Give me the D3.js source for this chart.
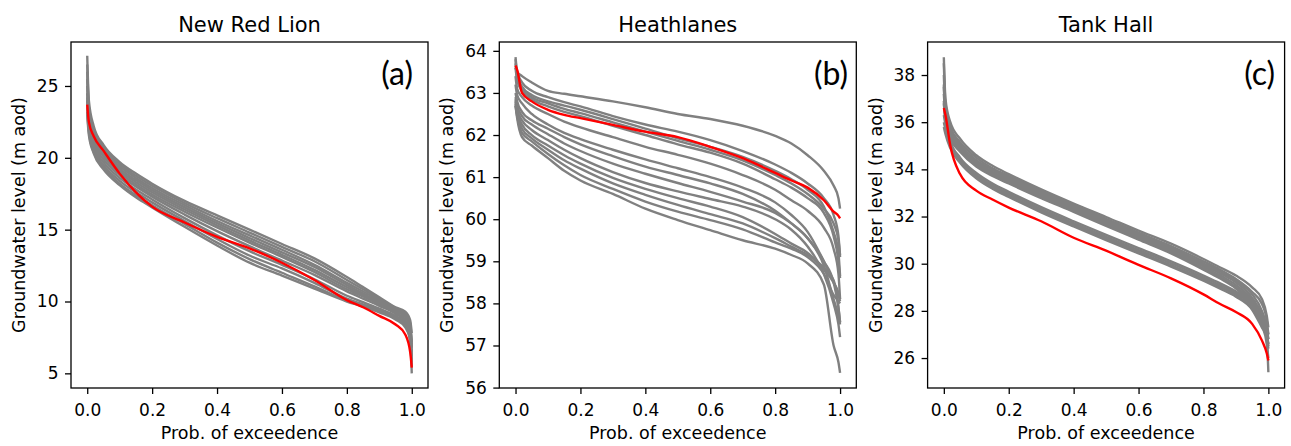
<html lang="en">
<head>
    <meta charset="utf-8">
    <style type="text/css">
        body { margin: 0; background: #fff; }
        text { font-family: "DejaVu Sans", sans-serif; fill: #000; }
        .grey { fill: none; stroke: #808080; stroke-width: 2.4px; stroke-linejoin: round; }
        .red { fill: none; stroke: #ff0000; stroke-width: 2.4px; stroke-linejoin: round; }
        .frame { fill: none; stroke: #000; stroke-width: 1.3px; }
        .tick line { stroke: #000; stroke-width: 1.3px; }
        .tick text { font-size: 17px; }
        .panelLetter { font-family: Lato, "Open Sans", sans-serif; font-size: 32px; }
    </style>
</head>

<body>
<svg width="1291" height="446"></svg>

<script src="https://d3js.org/d3.v7.min.js" type="text/javascript"></script>

<script type="text/javascript">
    // exceedance probabilities shared by every curve
    var prob = [0, 0.005, 0.02, 0.05, 0.1, 0.15, 0.2, 0.3, 0.4, 0.5, 0.6, 0.7, 0.8, 0.85, 0.9, 0.95, 0.98, 0.995, 1.0];
    var xTicks = [0, 0.2, 0.4, 0.6, 0.8, 1.0];

    // (a) New Red Lion
    var nrlTicks = [5, 10, 15, 20, 25];
    var nrlRed = [23.7, 22.5, 21.5, 20.5, 18.9, 17.6, 16.6, 15.5, 14.5, 13.7, 12.7, 11.5, 10.1, 9.6, 9.0, 8.4, 7.7, 6.5, 5.4];
    var nrlGrey = [
        [27.1, 24.0, 22.2, 20.9, 19.7, 18.9, 18.2, 17.0, 16.0, 15.0, 14.0, 13.0, 11.7, 11.0, 10.3, 9.6, 9.3, 8.7, 7.8],
        [26.5, 23.6, 22.0, 20.7, 19.55, 18.75, 18.05, 16.85, 15.8, 14.8, 13.8, 12.8, 11.5, 10.85, 10.2, 9.55, 9.2, 8.5, 7.2],
        [26.0, 23.3, 21.8, 20.55, 19.4, 18.6, 17.9, 16.7, 15.6, 14.6, 13.6, 12.55, 11.3, 10.7, 10.1, 9.5, 9.1, 8.3, 6.8],
        [25.5, 23.0, 21.6, 20.4, 19.25, 18.45, 17.75, 16.55, 15.45, 14.42, 13.42, 12.4, 11.15, 10.55, 10.0, 9.45, 9.0, 8.0, 6.2],
        [25.0, 22.8, 21.4, 20.25, 19.1, 18.3, 17.6, 16.4, 15.3, 14.25, 13.25, 12.2, 11.0, 10.45, 9.9, 9.35, 8.9, 8.1, 7.0],
        [24.5, 22.6, 21.2, 20.1, 18.95, 18.15, 17.45, 16.25, 15.15, 14.1, 13.1, 12.05, 10.85, 10.35, 9.8, 9.25, 8.7, 7.6, 5.0],
        [24.2, 22.4, 21.0, 19.9, 18.8, 18.0, 17.3, 16.05, 14.9, 13.85, 12.85, 11.85, 10.7, 10.2, 9.7, 9.15, 8.6, 7.8, 6.5],
        [24.0, 22.2, 20.8, 19.7, 18.6, 17.8, 17.1, 15.8, 14.6, 13.5, 12.55, 11.55, 10.4, 9.95, 9.5, 9.0, 8.5, 7.5, 5.8],
        [23.5, 22.0, 20.6, 19.5, 18.4, 17.6, 16.9, 15.6, 14.35, 13.2, 12.3, 11.3, 10.2, 9.8, 9.4, 8.9, 8.4, 7.2, 5.5],
        [23.2, 21.8, 20.4, 19.35, 18.2, 17.4, 16.7, 15.4, 14.1, 12.95, 12.0, 11.05, 10.05, 9.7, 9.3, 8.8, 8.3, 7.6, 6.8],
        [23.0, 21.6, 20.3, 19.2, 18.1, 17.25, 16.55, 15.2, 13.9, 12.7, 11.8, 10.9, 10.0, 9.65, 9.25, 8.75, 8.2, 7.4, 6.0]
    ];

    // (b) Heathlanes
    var hlTicks = [56, 57, 58, 59, 60, 61, 62, 63, 64];
    var hlRed = [63.65, 63.55, 63.0, 62.8, 62.6, 62.48, 62.4, 62.24, 62.08, 61.95, 61.72, 61.45, 61.1, 60.92, 60.75, 60.45, 60.18, 60.08, 60.02];
    var hlGrey = [
        [63.6, 63.5, 63.4, 63.25, 63.05, 62.98, 62.92, 62.8, 62.66, 62.5, 62.38, 62.22, 61.98, 61.8, 61.52, 61.15, 60.8, 60.5, 60.25],
        [63.85, 63.5, 63.25, 63.05, 62.9, 62.78, 62.68, 62.45, 62.25, 62.08, 61.88, 61.62, 61.3, 61.1, 60.85, 60.5, 60.1, 59.6, 59.1],
        [63.8, 63.4, 63.15, 62.95, 62.8, 62.7, 62.6, 62.38, 62.15, 61.92, 61.72, 61.48, 61.15, 60.95, 60.7, 60.3, 59.7, 59.2, 58.65],
        [63.7, 63.35, 63.1, 62.9, 62.75, 62.62, 62.52, 62.3, 62.08, 61.86, 61.65, 61.4, 61.05, 60.85, 60.6, 60.25, 59.9, 59.5, 59.15],
        [63.6, 63.3, 63.05, 62.85, 62.68, 62.55, 62.45, 62.22, 62.0, 61.78, 61.58, 61.32, 60.95, 60.75, 60.5, 60.15, 59.6, 59.0, 58.6],
        [63.4, 63.1, 62.9, 62.7, 62.5, 62.32, 62.18, 61.95, 61.72, 61.53, 61.32, 61.05, 60.7, 60.45, 60.2, 59.8, 59.3, 58.7, 58.1],
        [63.2, 62.95, 62.75, 62.5, 62.25, 62.05, 61.9, 61.65, 61.42, 61.21, 61.0, 60.75, 60.4, 60.1, 59.7, 59.0, 58.5, 58.2, 58.05],
        [63.0, 62.8, 62.55, 62.35, 62.15, 61.95, 61.78, 61.5, 61.25, 61.05, 60.85, 60.6, 60.2, 59.9, 59.55, 59.0, 58.5, 57.9, 57.55],
        [62.9, 62.7, 62.45, 62.25, 62.02, 61.8, 61.62, 61.32, 61.08, 60.86, 60.65, 60.42, 60.15, 59.9, 59.55, 58.9, 58.1, 57.7, 57.5],
        [62.85, 62.6, 62.35, 62.12, 61.88, 61.65, 61.45, 61.12, 60.86, 60.66, 60.48, 60.3, 60.0, 59.75, 59.35, 58.7, 58.0, 57.5, 57.2],
        [62.8, 62.55, 62.25, 62.0, 61.75, 61.52, 61.32, 60.98, 60.72, 60.5, 60.3, 60.05, 59.65, 59.42, 59.2, 58.8, 58.5, 58.25, 58.1],
        [62.75, 62.5, 62.15, 61.92, 61.65, 61.4, 61.2, 60.85, 60.58, 60.34, 60.12, 59.9, 59.55, 59.35, 59.15, 58.85, 58.55, 57.9, 57.55],
        [62.7, 62.45, 62.05, 61.85, 61.55, 61.28, 61.05, 60.72, 60.42, 60.18, 59.98, 59.76, 59.45, 59.3, 59.1, 58.7, 58.2, 58.05, 58.0],
        [62.7, 62.4, 61.95, 61.75, 61.45, 61.15, 60.92, 60.6, 60.25, 59.98, 59.74, 59.5, 59.3, 59.15, 58.95, 58.45, 57.0, 56.6, 56.35]
    ];

    // (c) Tank Hall
    var thTicks = [26, 28, 30, 32, 34, 36, 38];
    var thRed = [36.6, 36.3, 35.0, 33.8, 33.1, 32.72, 32.38, 31.8, 31.1, 30.55, 29.95, 29.38, 28.7, 28.3, 27.95, 27.45, 26.75, 26.2, 25.9];
    var thGrey = [
        [38.75, 37.0, 36.0, 35.3, 34.6, 34.15, 33.8, 33.15, 32.55, 31.98, 31.4, 30.85, 30.2, 29.85, 29.5, 29.0, 28.5, 27.8, 27.3],
        [38.5, 36.8, 35.8, 35.15, 34.5, 34.05, 33.72, 33.08, 32.48, 31.9, 31.32, 30.75, 30.1, 29.75, 29.35, 28.8, 28.3, 27.6, 27.0],
        [38.0, 36.6, 35.7, 35.05, 34.4, 33.98, 33.65, 33.02, 32.42, 31.84, 31.26, 30.68, 30.02, 29.68, 29.28, 28.7, 28.0, 27.3, 26.8],
        [37.6, 36.4, 35.6, 34.95, 34.32, 33.9, 33.58, 32.95, 32.36, 31.78, 31.2, 30.62, 29.95, 29.6, 29.2, 28.55, 27.8, 27.0, 26.5],
        [37.2, 36.3, 35.5, 34.9, 34.25, 33.84, 33.52, 32.9, 32.3, 31.72, 31.14, 30.55, 29.88, 29.52, 29.1, 28.45, 27.7, 26.8, 25.4],
        [36.8, 36.1, 35.4, 34.82, 34.18, 33.78, 33.46, 32.84, 32.25, 31.66, 31.08, 30.5, 29.8, 29.45, 29.0, 28.35, 27.5, 27.0, 26.6],
        [36.3, 35.9, 35.3, 34.75, 34.12, 33.72, 33.4, 32.78, 32.2, 31.6, 31.02, 30.44, 29.75, 29.38, 28.95, 28.3, 27.7, 27.3, 27.0],
        [37.5, 36.2, 35.2, 34.5, 33.85, 33.4, 33.05, 32.4, 31.8, 31.22, 30.66, 30.1, 29.5, 29.18, 28.82, 28.3, 27.6, 27.1, 26.8],
        [36.9, 36.0, 35.1, 34.42, 33.76, 33.32, 32.98, 32.32, 31.72, 31.14, 30.58, 30.02, 29.42, 29.1, 28.75, 28.2, 27.5, 26.9, 26.4],
        [36.0, 35.7, 35.0, 34.35, 33.7, 33.25, 32.9, 32.25, 31.65, 31.06, 30.5, 29.94, 29.35, 29.02, 28.68, 28.1, 27.4, 26.6, 26.0],
        [35.8, 35.5, 34.9, 34.28, 33.62, 33.18, 32.83, 32.18, 31.58, 31.0, 30.44, 29.88, 29.28, 28.95, 28.6, 28.05, 27.3, 26.9, 26.6]
    ];

    var titles = ["New Red Lion", "Heathlanes", "Tank Hall"];
    var letters = ["(a)", "(b)", "(c)"];

    var svg = d3.select("svg"),
        top0 = 42,
        frameW = 357,
        frameH = 346;

    var panels = [
        {grey: nrlGrey, red: nrlRed, ticks: nrlTicks, yDomain: [3.98, 28.06], left: 71, letterX: 413},
        {grey: hlGrey, red: hlRed, ticks: hlTicks, yDomain: [55.99, 64.21], left: 499.3, letterX: 848},
        {grey: thGrey, red: thRed, ticks: thTicks, yDomain: [24.73, 39.40], left: 927.6, letterX: 1275}
    ];

    panels.forEach(function (p, i) {
        drawPanel(p, i);
    });

    function drawPanel(p, i) {
        var g = svg.append("g")
            .attr("transform", "translate(" + p.left + "," + top0 + ")");

        var x = d3.scaleLinear().domain([-0.05, 1.05]).range([0, frameW]);
        var y = d3.scaleLinear().domain(p.yDomain).range([frameH, 0]);

        var line = d3.line()
            .x(function (d, j) { return x(prob[j]); })
            .y(function (d) { return y(d); })
            .curve(d3.curveMonotoneX);

        g.selectAll(".grey")
            .data(p.grey)
            .enter()
            .append("path")
            .attr("class", "grey")
            .attr("d", line);

        g.append("path")
            .datum(p.red)
            .attr("class", "red")
            .attr("d", line);

        var xAxis = g.append("g")
            .attr("transform", "translate(0," + frameH + ")")
            .call(d3.axisBottom(x).tickValues(xTicks).tickSize(6).tickPadding(10)
                .tickFormat(d3.format(".1f")));
        xAxis.select(".domain").remove();

        var yAxis = g.append("g")
            .call(d3.axisLeft(y).tickValues(p.ticks).tickSize(6).tickPadding(6.5)
                .tickFormat(d3.format("d")));
        yAxis.select(".domain").remove();

        g.selectAll(".tick text")
            .attr("font-family", null)
            .attr("font-size", null);

        g.append("rect")
            .attr("class", "frame")
            .attr("width", frameW)
            .attr("height", frameH);

        g.append("text")
            .attr("x", frameW / 2)
            .attr("y", -10)
            .attr("text-anchor", "middle")
            .style("font-size", "21px")
            .text(titles[i]);

        g.append("text")
            .attr("x", frameW / 2)
            .attr("y", frameH + 51)
            .attr("text-anchor", "middle")
            .style("font-size", "17.5px")
            .text("Prob. of exceedence");

        g.append("text")
            .attr("transform", "translate(-46," + (frameH / 2) + ") rotate(-90)")
            .attr("text-anchor", "middle")
            .style("font-size", "17.5px")
            .text("Groundwater level (m aod)");

        svg.append("text")
            .attr("class", "panelLetter")
            .attr("x", p.letterX)
            .attr("y", 85)
            .attr("text-anchor", "end")
            .text(letters[i]);
    }
</script>

</body>
</html>
